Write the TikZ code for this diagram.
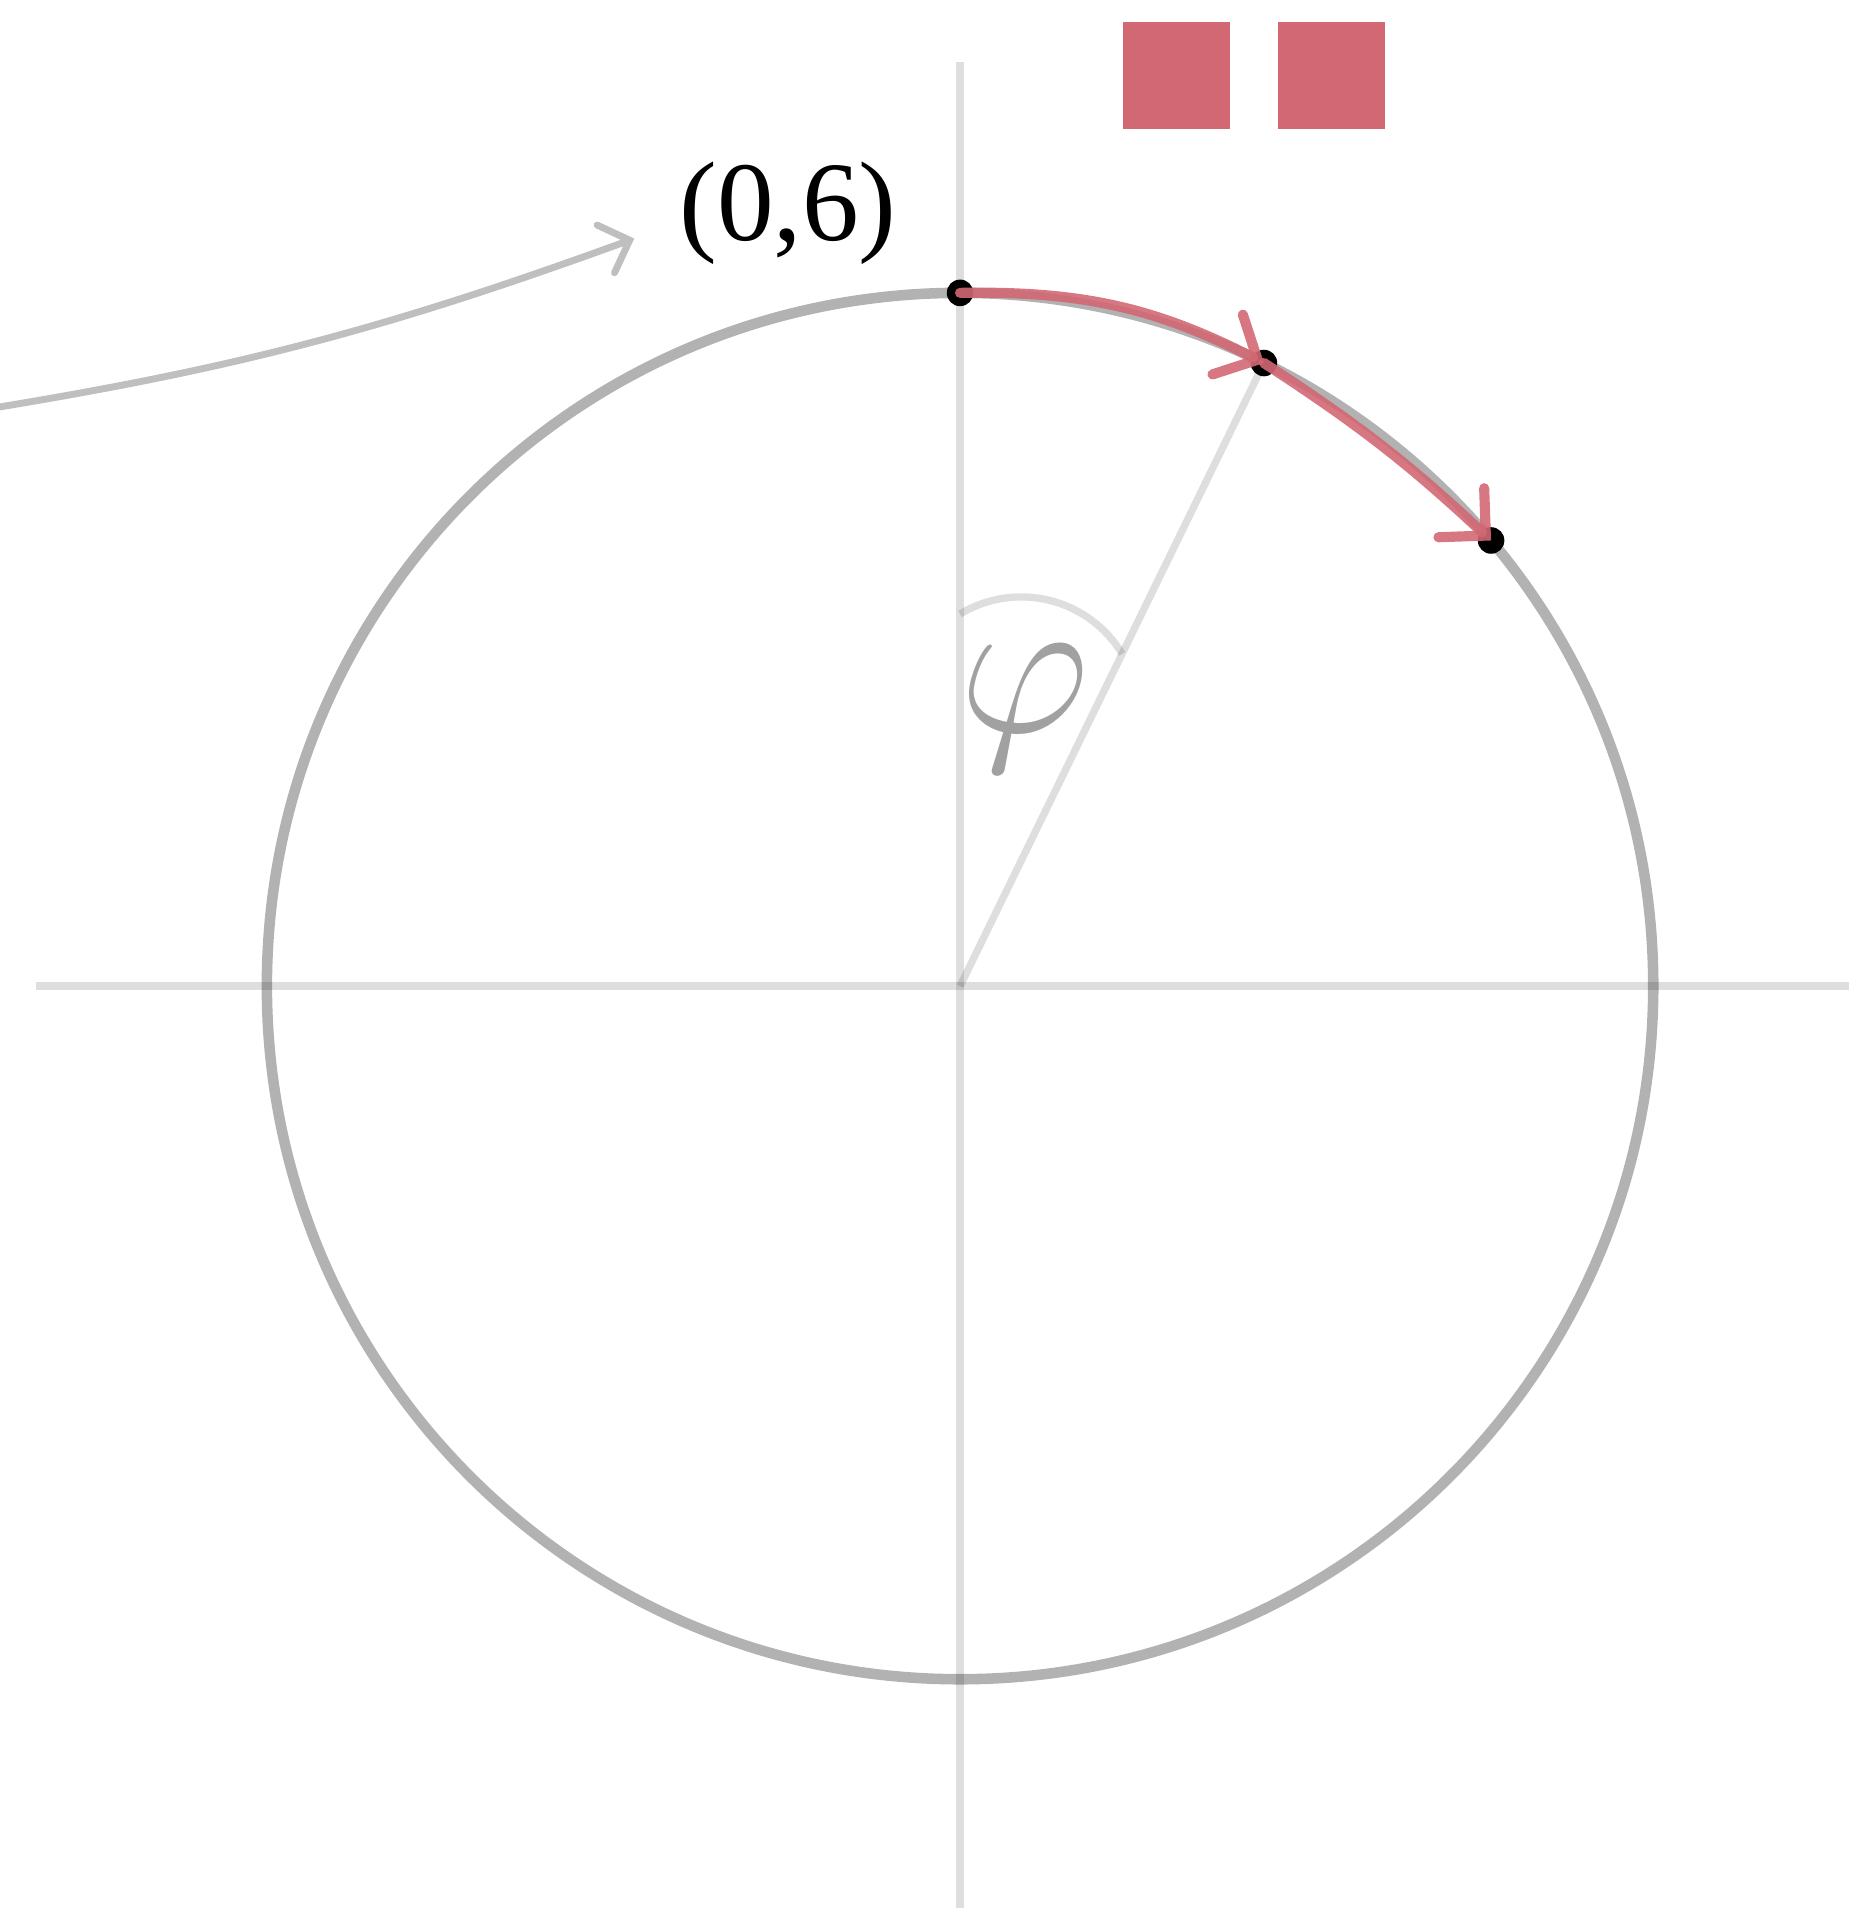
\documentclass[tikz,border=0pt]{standalone}
\usepackage{fix-cm}
\usepackage{fontspec}
\setmainfont{Liberation Serif}
\usepackage{xcolor}
\usepackage{tikz}
\usetikzlibrary{arrows.meta,positioning,calc}

\definecolor{rosered}{RGB}{210,104,115}

\begin{document}
\begin{tikzpicture}[
  axis/.style={draw=black,draw opacity=0.13,line width=2.05pt},
  guide/.style={draw=black,draw opacity=0.13,line width=1.8pt},
  ring/.style={draw=black,draw opacity=0.3,line width=2.6pt},
  dot/.style={fill=black},
  walk/.style={draw=rosered,draw opacity=0.9,line width=2.5pt,line cap=round,
    -{Straight Barb[length=2.9mm,width=5.8mm,line cap=round]}},
  pointer/.style={draw=black!25,line width=1.7pt,line cap=round,
    -{Straight Barb[length=2.2mm,width=4.4mm,line cap=round]}},
  swatch/.style={fill=rosered,minimum size=0.926cm,inner sep=0pt}
]
\useasboundingbox (-8.31,-7.98) rectangle (7.69,8.535);
% axes and guides
\coordinate (o) at (0,0);
\draw[axis] (-8,0) -- (8,0);
\draw[axis] (0,-8) -- (0,8);
\coordinate (top) at (90:6);
\coordinate (p2) at (64:6);
\coordinate (p3) at (40:6);
\coordinate (a1) at (0,3.22);
\coordinate (a2) at (64:3.2);
\draw[guide] (o) -- (p2);
\draw[guide] (a1) to[bend left=45] (a2);
% circle of radius 6
\draw[ring] (o) circle (6);
\node[text=black!37,inner sep=0pt] (phi) at (0.56,2.40) {\fontsize{50}{60}\selectfont$\varphi$};
% points on the circle
\fill[dot] (top) circle (0.115);
\fill[dot] (p2) circle (0.115);
\fill[dot] (p3) circle (0.115);
% steps
\draw[walk] (top) to[bend left=14] (p2);
\draw[walk] (p2) to[bend left=5] (p3);
% label
\node[anchor=base,inner sep=0pt] (lbl) at (-1.49,6.45) {\fontsize{27.9}{33}\selectfont (0,6)};
\coordinate (src) at (-8.7,4.95);
\coordinate (tip) at (-2.82,6.47);
\draw[pointer] (src) to[out=9,in=200] (tip);
% swatches
\node[swatch] (sq1) at (1.874,7.883) {};
\node[swatch,right=0.40cm of sq1] (sq2) {};
\end{tikzpicture}
\end{document}
